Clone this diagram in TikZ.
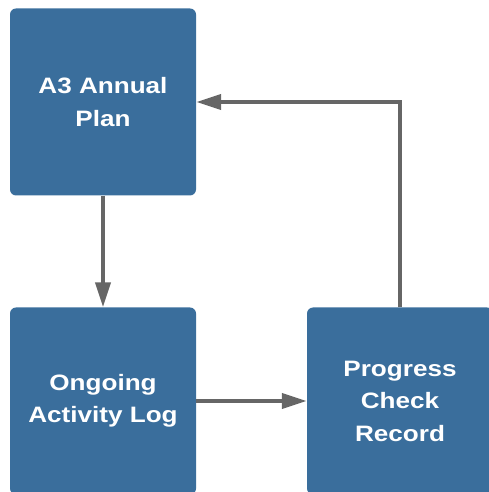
\documentclass[tikz,border=0pt]{standalone}
\usepackage{fontspec}
\setmainfont{Liberation Sans}
\newfontfamily\boxfont{Liberation Sans}[FakeStretch=1.17]
\usepackage{xcolor}
\usetikzlibrary{arrows.meta, calc, positioning}
\definecolor{boxblue}{RGB}{58,110,156}
\definecolor{flowgray}{RGB}{102,102,102}

\begin{document}
\begin{tikzpicture}[x=1pt, y=1pt,
    box/.style={fill=boxblue, rounded corners=6pt, minimum width=186pt, minimum height=187pt,
        text=white, align=center, font=\boxfont\fontsize{22.3}{32.5}\selectfont\bfseries, inner sep=0pt},
    flow/.style={draw=flowgray, line width=4pt, -{Triangle[length=25pt, width=15pt]}}]
        \useasboundingbox (0,0) rectangle (489,492);
        \clip (0,0) rectangle (489,492);
        \node[box] (plan) at (103,390) {A3 Annual\\Plan};
        \node[box] (log) at (103,91) {Ongoing\\Activity Log};
        \node[box] (check) at (400,91) {Progress\\Check\\Record};
        \draw[flow] (plan.south) -- (log.north);
        \draw[flow] (log.east) -- (check.west);
        \draw[flow] (check.north) |- (plan.east);
    \end{tikzpicture}
\end{document}
